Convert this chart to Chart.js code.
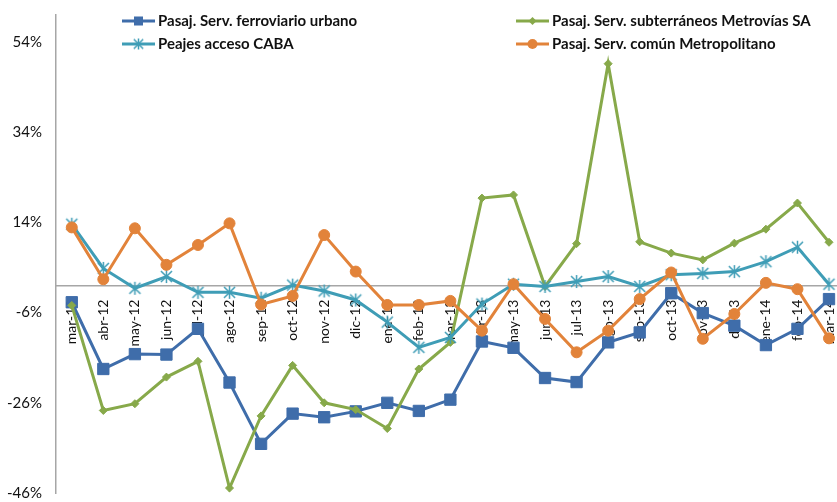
<!DOCTYPE html>
<html>
<head>
<meta charset="utf-8">
<title>Pasajeros y peajes - variación interanual</title>
<script src="https://cdn.jsdelivr.net/npm/chart.js@4.4.1/dist/chart.umd.min.js"></script>
<style>
  html, body { margin: 0; padding: 0; background: #fff; overflow: hidden; }
  #wrap { width: 860px; height: 502px; }
</style>
</head>
<body>
<div id="wrap"><canvas id="chart" width="860" height="502"></canvas></div>
<script>
// months on the category axis
var months = ['mar-12', 'abr-12', 'may-12', 'jun-12', 'jul-12', 'ago-12', 'sep-12', 'oct-12', 'nov-12', 'dic-12',
  'ene-13', 'feb-13', 'mar-13', 'abr-13', 'may-13', 'jun-13', 'jul-13', 'ago-13', 'sep-13', 'oct-13', 'nov-13', 'dic-13',
  'ene-14', 'feb-14', 'mar-14'];

// year-on-year variation, in %
var ferroviario = [-3.7, -18.5, -15.2, -15.3, -9.6, -21.5, -35.1, -28.4, -29.2, -27.9, -26.0, -27.8, -25.3,
  -12.4, -13.8, -20.5, -21.4, -12.6, -10.4, -1.7, -6.1, -8.9, -13.2, -9.6, -3.0];
var subterraneos = [-4.4, -27.7, -26.2, -20.3, -16.8, -44.9, -28.9, -17.7, -26.0, -27.5, -31.7, -18.5, -12.6,
  19.4, 20.1, -0.2, 9.3, 49.2, 9.7, 7.2, 5.7, 9.4, 12.5, 18.3, 9.6];
var peajes = [13.6, 3.8, -0.6, 2.0, -1.5, -1.5, -2.8, 0.1, -1.2, -3.2, -8.1, -13.7, -11.5,
  -4.1, 0.3, -0.2, 0.9, 2.0, -0.2, 2.4, 2.7, 3.1, 5.3, 8.5, 0.3];
var comun = [12.9, 1.4, 12.7, 4.6, 9.0, 13.8, -4.2, -2.3, 11.2, 3.1, -4.3, -4.3, -3.4,
  -10.0, 0.3, -7.4, -14.8, -10.0, -3.0, 2.9, -11.8, -6.3, 0.6, -0.8, -11.7];

var yTicks = [-46, -26, -6, 14, 34, 54];

var FONT = 'Lato, "Liberation Sans", sans-serif';

// excel style star marker: an X with a vertical stroke
function starMarker(color, r) {
  var c = document.createElement('canvas');
  var s = r * 2 + 4;
  c.width = s; c.height = s;
  var g = c.getContext('2d');
  var m = s / 2, d = r * 0.85;
  g.strokeStyle = color;
  g.lineWidth = 1.5;
  g.beginPath();
  g.moveTo(m - d, m - d); g.lineTo(m + d, m + d);
  g.moveTo(m + d, m - d); g.lineTo(m - d, m + d);
  g.moveTo(m, m - r); g.lineTo(m, m + r);
  g.stroke();
  return c;
}

var teal = '#3F9DB6';
var starImg = starMarker(teal, 6.5);
var starSmall = starMarker(teal, 5.5);

function serie(label, data, color, style, radius, order) {
  return {
    label: label,
    data: data,
    borderColor: color,
    backgroundColor: color,
    borderWidth: 3,
    tension: 0,
    pointStyle: style,
    pointRadius: radius,
    pointHoverRadius: radius,
    pointBorderWidth: 1,
    pointBackgroundColor: color,
    pointBorderColor: color,
    order: order
  };
}

// legend in two columns, like the original sheet
var legendBox = {
  id: 'legendBox',
  afterDraw: function(chart) {
    var ctx = chart.ctx;
    var spots = [[122, 21], [516, 21], [122, 44], [516, 44]];
    chart.data.datasets.forEach(function(ds, i) {
      var x = spots[i][0], y = spots[i][1];
      var color = ds.borderColor;
      ctx.save();
      ctx.strokeStyle = color;
      ctx.fillStyle = color;
      ctx.lineWidth = 3;
      ctx.beginPath();
      ctx.moveTo(x, y);
      ctx.lineTo(x + 33, y);
      ctx.stroke();
      var cx = x + 16.5;
      if (ds.pointStyle === 'rect') {
        ctx.fillRect(cx - 4.5, y - 4.5, 9, 9);
      } else if (ds.pointStyle === 'rectRot') {
        ctx.beginPath();
        ctx.moveTo(cx, y - 4); ctx.lineTo(cx + 4, y); ctx.lineTo(cx, y + 4); ctx.lineTo(cx - 4, y);
        ctx.closePath(); ctx.fill();
      } else if (ds.pointStyle === 'circle') {
        ctx.beginPath();
        ctx.arc(cx, y, 5, 0, Math.PI * 2);
        ctx.fill();
      } else {
        ctx.drawImage(starSmall, cx - starSmall.width / 2, y - starSmall.height / 2);
      }
      ctx.fillStyle = '#111';
      ctx.font = 'bold 15px ' + FONT;
      ctx.textBaseline = 'middle';
      ctx.textAlign = 'left';
      ctx.fillText(ds.label, x + 36, y);
      ctx.restore();
    });
  }
};

var ctx = document.getElementById('chart').getContext('2d');
var chart = new Chart(ctx, {
  type: 'line',
  data: {
    labels: months,
    datasets: [
      serie('Pasaj. Serv. ferroviario urbano', ferroviario, '#3F6DAA', 'rect', 8, 3),
      serie('Pasaj. Serv. subterráneos Metrovías SA', subterraneos, '#87A94A', 'rectRot', 4, 2),
      serie('Peajes acceso CABA', peajes, teal, starImg, 6.5, 1),
      serie('Pasaj. Serv. común Metropolitano', comun, '#E2833A', 'circle', 5.5, 0)
    ]
  },
  options: {
    responsive: false,
    animation: false,
    layout: { padding: { top: 15, right: 10, bottom: 7, left: 0 } },
    plugins: {
      legend: { display: false },
      tooltip: { enabled: false }
    },
    scales: {
      x: {
        type: 'category',
        position: { y: 0 },
        offset: true,
        grid: { display: false, drawTicks: false },
        border: { display: true, color: '#A6A6A6', width: 1.5 },
        ticks: {
          autoSkip: false,
          minRotation: 90,
          maxRotation: 90,
          padding: 14,
          color: '#111',
          font: { family: FONT, size: 14 }
        }
      },
      y: {
        min: -46,
        max: 60,
        afterBuildTicks: function(scale) {
          scale.ticks = yTicks.map(function(v) { return { value: v }; });
        },
        afterFit: function(scale) {
          // keep the plot full height, the tick padding is only horizontal here
          scale.width = 56;
          scale.paddingTop = 0;
          scale.paddingBottom = 0;
        },
        grid: { display: false, drawTicks: false },
        border: { display: true, color: '#A6A6A6', width: 1.5 },
        ticks: {
          padding: 14,
          color: '#111',
          font: { family: FONT, size: 15 },
          callback: function(v) { return v + '%'; }
        }
      }
    }
  },
  plugins: [legendBox]
});
</script>
</body>
</html>
